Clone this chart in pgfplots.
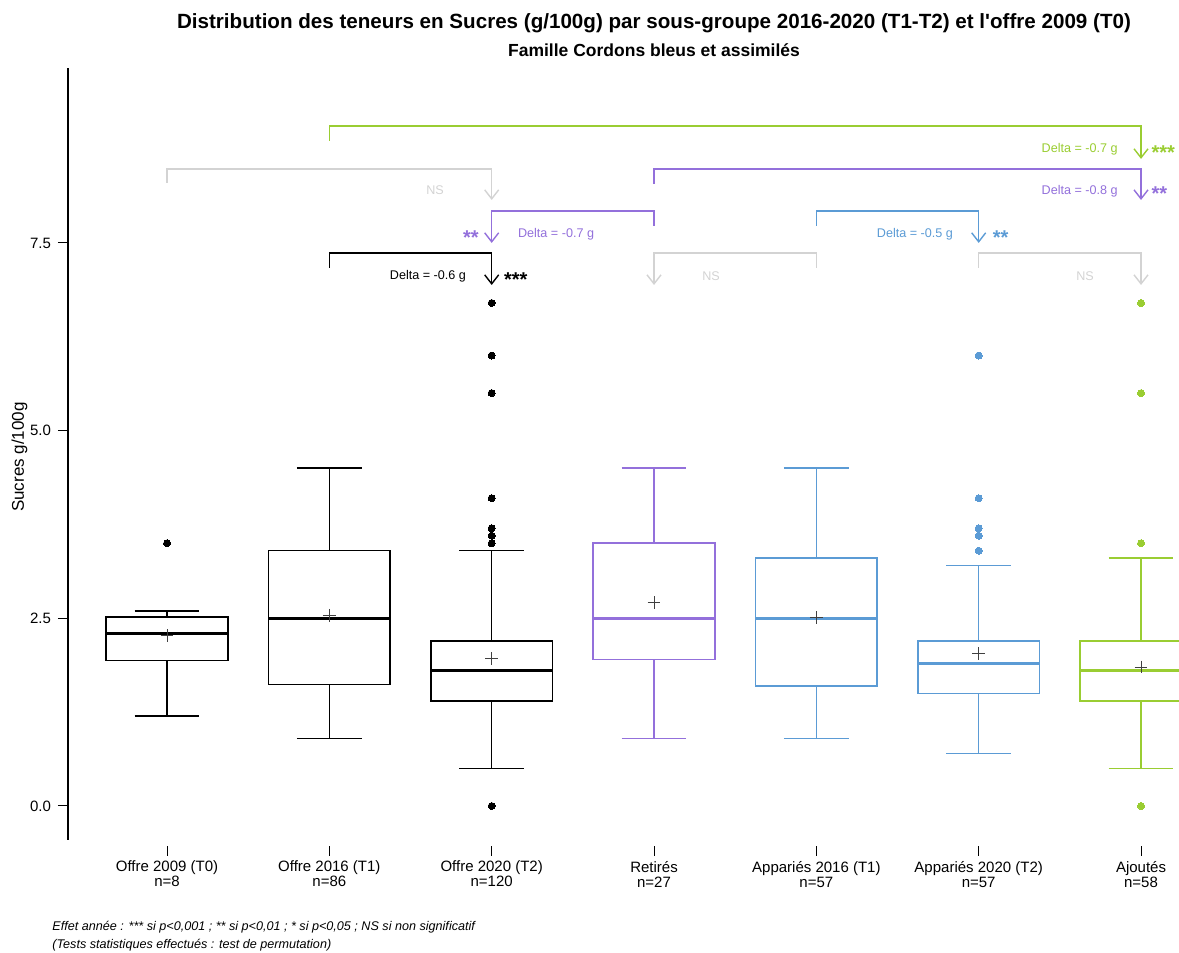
\documentclass[border=0pt]{standalone}
\usepackage{pgfplots}
\pgfplotsset{compat=1.18}
\usepgfplotslibrary{statistics}
\usetikzlibrary{arrows.meta}
\usepackage{fontspec}
\setmainfont{Liberation Sans}
\definecolor{cpurple}{RGB}{147,112,219}
\definecolor{cblue}{RGB}{91,155,213}
\definecolor{cgreen}{RGB}{154,205,50}
\definecolor{cgray}{RGB}{211,211,211}
\newcommand{\fs}[1]{\fontsize{#1}{#1}\selectfont}
\begin{document}
\begin{tikzpicture}
\begin{axis}[name=ax,
  scale only axis, width=555.5pt, height=389pt,
  xmin=-0.61, xmax=6.234, ymin=-0.533, ymax=9.83,
  clip=false,
  axis y line*=left, axis x line*=bottom,
  x axis line style={draw=none},
  y axis line style={line width=0.8pt, shorten <=3pt},
  tick align=outside, major tick length=5pt,
  tick style={black, line width=0.5pt},
  xtick={0,1,2,3,4,5,6},
  xticklabels={{Offre 2009 (T0)\\n=8},{Offre 2016 (T1)\\n=86},{Offre 2020 (T2)\\n=120},{Retirés\\n=27},{Appariés 2016 (T1)\\n=57},{Appariés 2020 (T2)\\n=57},{Ajoutés\\n=58}},
  xticklabel style={align=center, font=\fs{7.5}, yshift=1pt},
  ytick={0,2.5,5,7.5}, yticklabels={0.0,2.5,5.0,7.5},
  yticklabel style={font=\fs{7.5}},
  ylabel={Sucres g/100g}, ylabel style={font=\fs{8.5}, yshift=-5.5pt},
  boxplot/draw direction=y,
  boxplot/every median/.style={line width=1.6pt},
  boxplot/box extend=0.75, boxplot/whisker extend=0.4,
]
% boxplots
\addplot[black, line width=0.75pt, mark=*, mark size=1.75pt, mark options={solid, fill=black, draw=black, line width=0pt},
  boxplot prepared={draw position=0, median=2.3, lower quartile=1.94, upper quartile=2.52, lower whisker=1.2, upper whisker=2.6}]
  coordinates {(0,3.5)};
\addplot[black, line width=0.75pt, mark=*, mark size=1.75pt, mark options={solid, fill=black, draw=black, line width=0pt},
  boxplot prepared={draw position=1, median=2.5, lower quartile=1.62, upper quartile=3.4, lower whisker=0.9, upper whisker=4.5}]
  coordinates {};
\addplot[black, line width=0.75pt, mark=*, mark size=1.75pt, mark options={solid, fill=black, draw=black, line width=0pt},
  boxplot prepared={draw position=2, median=1.8, lower quartile=1.4, upper quartile=2.2, lower whisker=0.5, upper whisker=3.4}]
  coordinates {(2,0) (2,3.5) (2,3.6) (2,3.7) (2,4.1) (2,5.5) (2,6.0) (2,6.7)};
\addplot[cpurple, line width=0.75pt, mark=*, mark size=1.75pt, mark options={solid, fill=cpurple, draw=cpurple, line width=0pt},
  boxplot prepared={draw position=3, median=2.5, lower quartile=1.95, upper quartile=3.5, lower whisker=0.9, upper whisker=4.5}]
  coordinates {};
\addplot[cblue, line width=0.75pt, mark=*, mark size=1.75pt, mark options={solid, fill=cblue, draw=cblue, line width=0pt},
  boxplot prepared={draw position=4, median=2.5, lower quartile=1.6, upper quartile=3.3, lower whisker=0.9, upper whisker=4.5}]
  coordinates {};
\addplot[cblue, line width=0.75pt, mark=*, mark size=1.75pt, mark options={solid, fill=cblue, draw=cblue, line width=0pt},
  boxplot prepared={draw position=5, median=1.9, lower quartile=1.5, upper quartile=2.2, lower whisker=0.7, upper whisker=3.2}]
  coordinates {(5,3.4) (5,3.6) (5,3.7) (5,4.1) (5,6.0)};
\addplot[cgreen, line width=0.75pt, mark=*, mark size=1.75pt, mark options={solid, fill=cgreen, draw=cgreen, line width=0pt},
  boxplot prepared={draw position=6, median=1.8, lower quartile=1.4, upper quartile=2.2, lower whisker=0.5, upper whisker=3.3}]
  coordinates {(6,0) (6,3.5) (6,5.5) (6,6.7)};
% means
\addplot[only marks, mark=+, mark size=3.2pt, mark options={black!75, line width=0.5pt}]
  coordinates {(0,2.27) (1,2.54) (2,1.96) (3,2.71) (4,2.51) (5,2.03) (6,1.85)};
% significance brackets
\tikzset{br/.style={line width=0.7pt, -{Straight Barb[length=4.5pt,width=7pt]}}}
\draw[br, cgreen] (1,8.858) |- (6,9.058) -- (6,8.619);
\draw[br, cgray] (0,8.299) |- (2,8.485) -- (2,8.072);
\draw[br, cpurple] (3,8.285) |- (6,8.485) -- (6,8.072);
\draw[br, cpurple] (3,7.726) |- (2,7.926) -- (2,7.5);
\draw[br, cblue] (4,7.726) |- (5,7.926) -- (5,7.5);
\draw[br, black] (1,7.167) |- (2,7.367) -- (2,6.94);
\draw[br, cgray] (4,7.167) |- (3,7.367) -- (3,6.94);
\draw[br, cgray] (5,7.167) |- (6,7.367) -- (6,6.94);
% labels
\node[anchor=east, text=cgreen, font=\fs{6.3}] at (5.90,8.752) {Delta = -0.7 g};
\node[anchor=west, inner sep=1pt, text=cgreen, font=\bfseries\fs{10}, yshift=-2pt] at (6.05,8.752) {***};
\node[text=cgray, font=\fs{6.3}] at (1.651,8.205) {NS};
\node[anchor=east, text=cpurple, font=\fs{6.3}] at (5.90,8.192) {Delta = -0.8 g};
\node[anchor=west, inner sep=1pt, text=cpurple, font=\bfseries\fs{10}, yshift=-2pt] at (6.05,8.205) {**};
\node[anchor=east, inner sep=1pt, text=cpurple, font=\bfseries\fs{10}, yshift=-2pt] at (1.934,7.62) {**};
\node[anchor=west, text=cpurple, font=\fs{6.3}] at (2.119,7.62) {Delta = -0.7 g};
\node[anchor=east, text=cblue, font=\fs{6.3}] at (4.885,7.62) {Delta = -0.5 g};
\node[anchor=west, inner sep=1pt, text=cblue, font=\bfseries\fs{10}, yshift=-2pt] at (5.073,7.62) {**};
\node[anchor=east, text=black, font=\fs{6.3}] at (1.885,7.06) {Delta = -0.6 g};
\node[anchor=west, inner sep=1pt, text=black, font=\bfseries\fs{10}, yshift=-2pt] at (2.062,7.06) {***};
\node[text=cgray, font=\fs{6.3}] at (3.351,7.06) {NS};
\node[text=cgray, font=\fs{6.3}] at (5.655,7.06) {NS};
% titles
\node[font=\bfseries\fs{10.3}] at (3,10.43) {Distribution des teneurs en Sucres (g/100g) par sous-groupe 2016-2020 (T1-T2) et l\textquotesingle offre 2009 (T0)};
\node[font=\bfseries\fs{8.75}] at (3,10.07) {Famille Cordons bleus et assimilés};
% footer
\node[anchor=west, inner sep=0pt, font=\itshape\fs{6.3}] at (-0.708,-1.612) {Effet année : *** si p<0,001 ; ** si p<0,01 ; * si p<0,05 ; NS si non significatif};
\node[anchor=west, inner sep=0pt, font=\itshape\fs{6.3}] at (-0.708,-1.852) {(Tests statistiques effectués : test de permutation)};
\end{axis}
\pgfresetboundingbox
\path (ax.south west) ++(-34pt,-53.5pt) rectangle ++(589.5pt,476.5pt);
\end{tikzpicture}
\end{document}
